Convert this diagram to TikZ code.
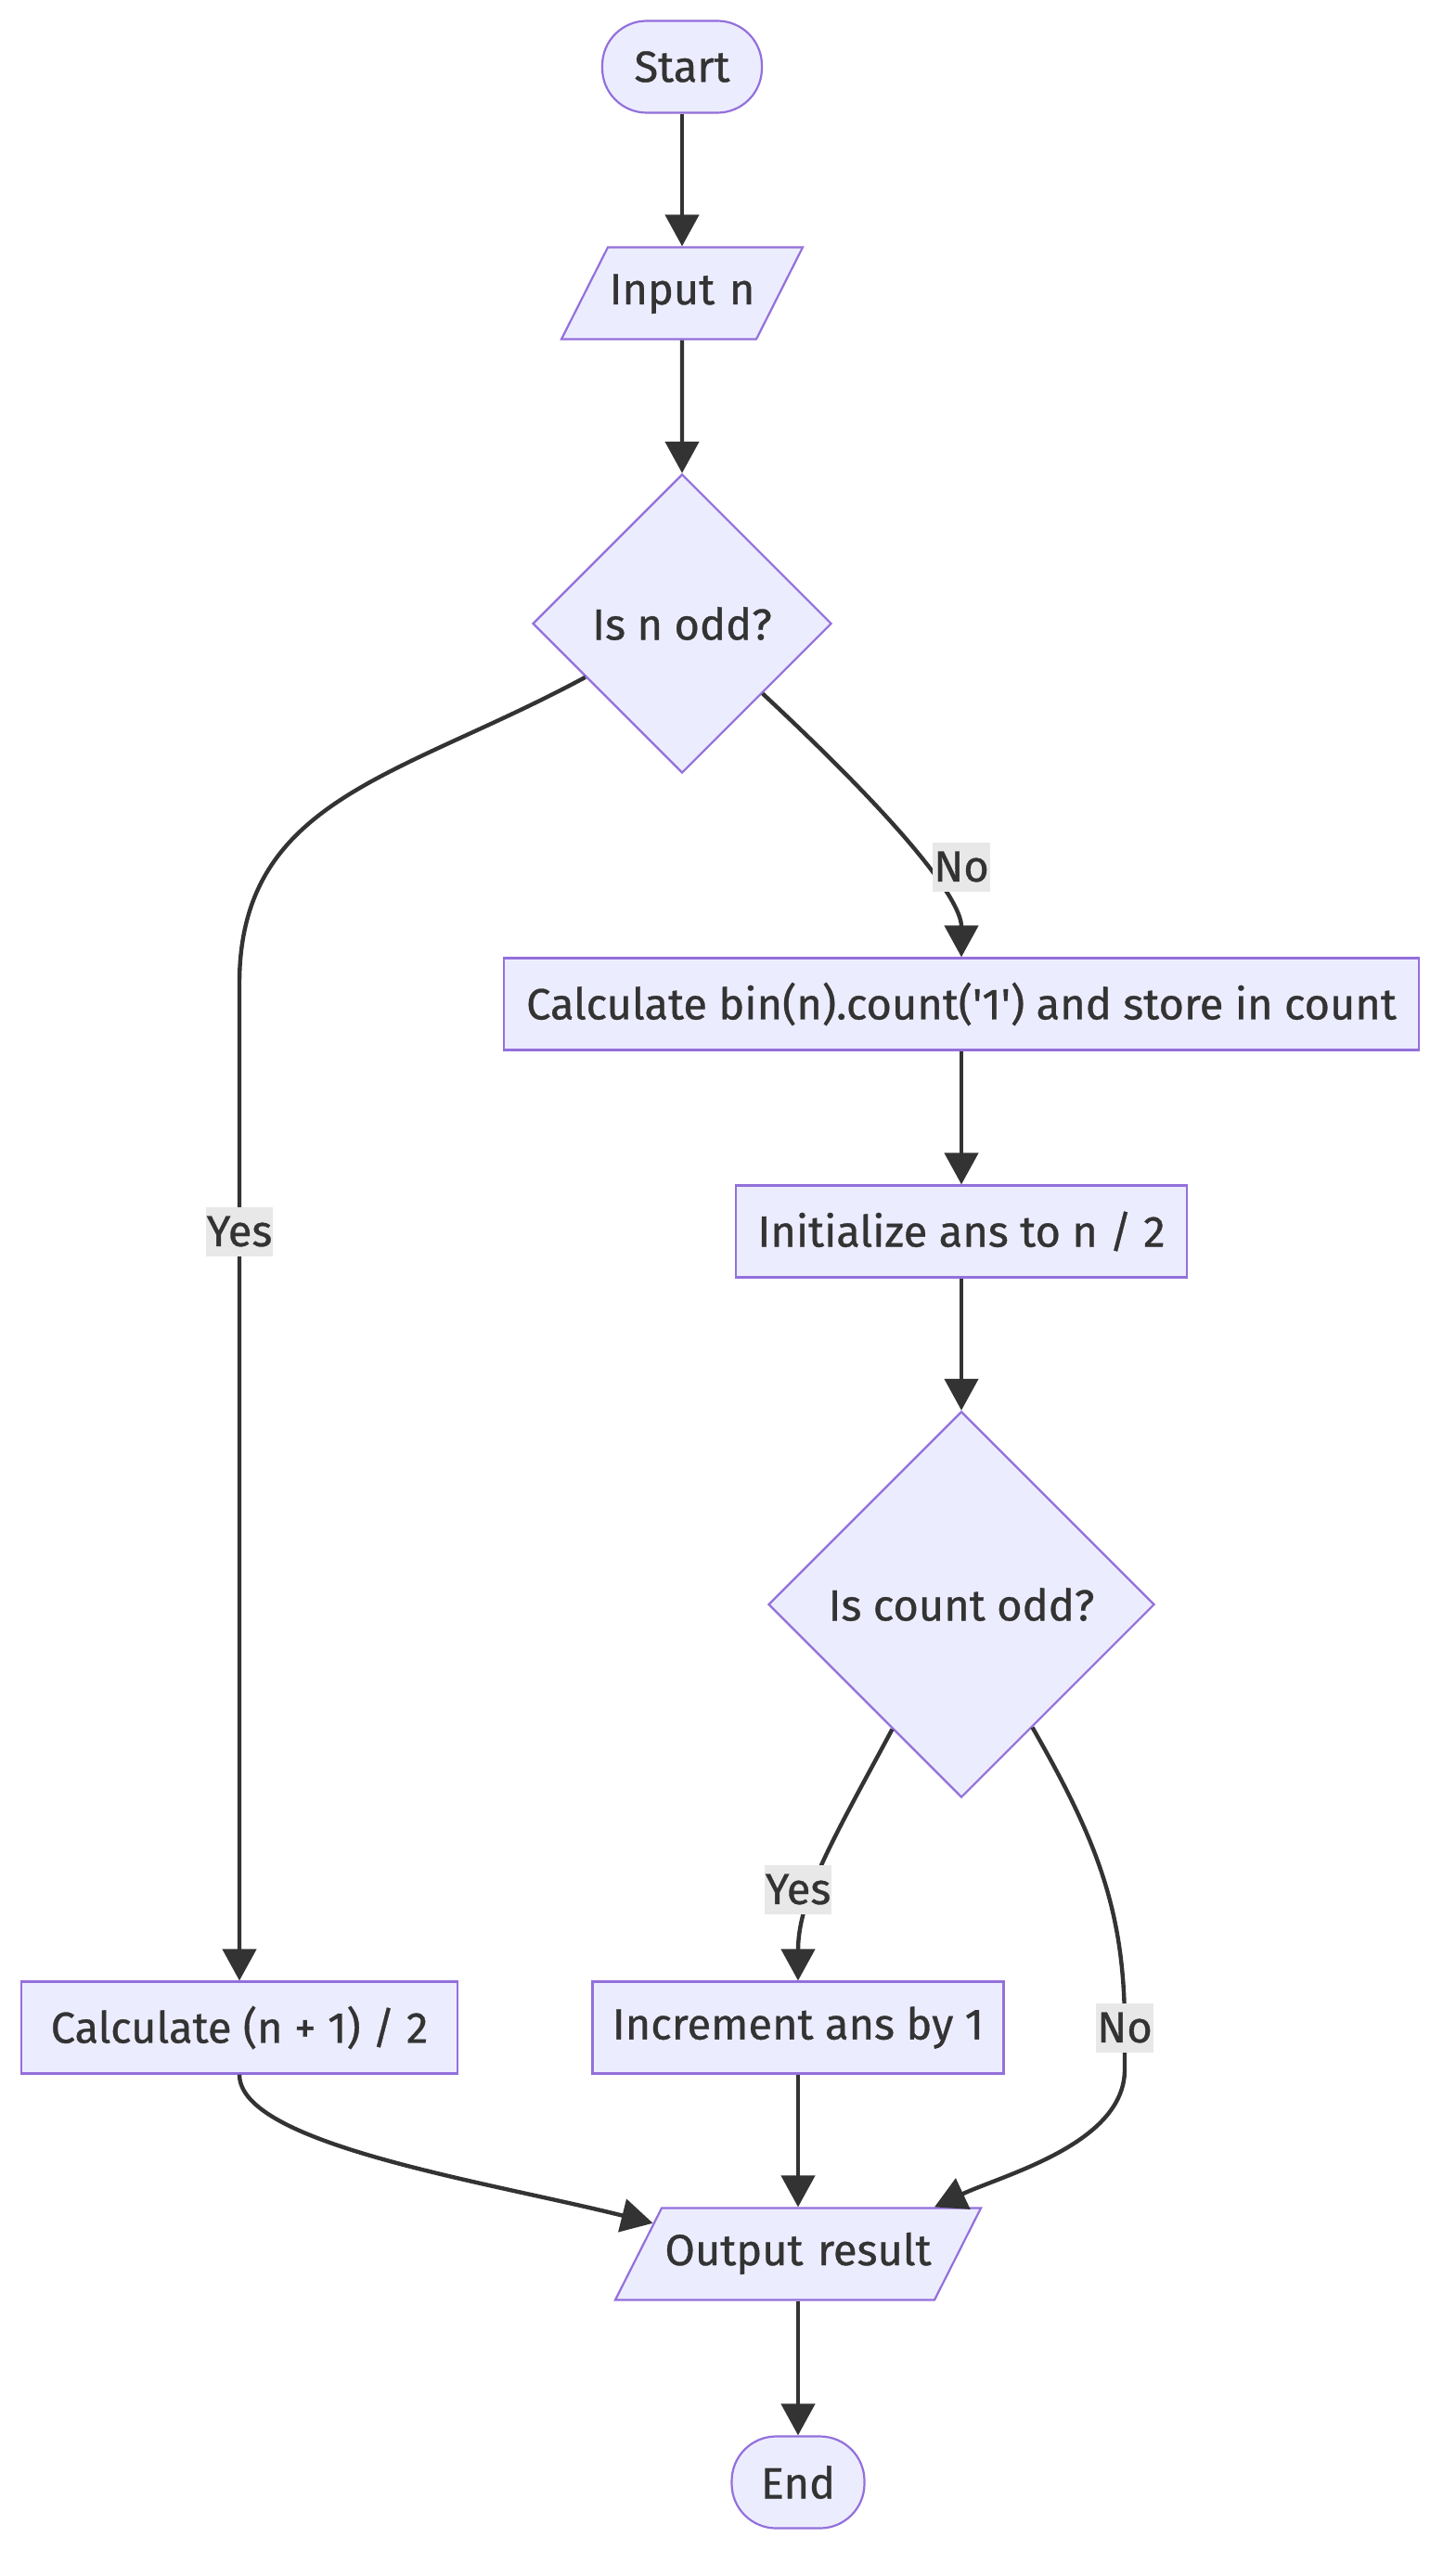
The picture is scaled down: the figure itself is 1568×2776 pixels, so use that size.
\documentclass[tikz,border=0pt]{standalone}
\usepackage{fontspec}
\setmainfont{Fira Sans}[FakeBold=0.7]
\usetikzlibrary{shapes.geometric,arrows.meta,calc}
\definecolor{nodefill}{HTML}{ECECFF}
\definecolor{nodeline}{HTML}{9370DB}
\definecolor{ink}{HTML}{333333}
\definecolor{lblbg}{HTML}{E8E8E8}
\begin{document}
\begin{tikzpicture}[x=0.5pt,y=-0.5pt,
  txt/.style={text=ink,font=\fontsize{23.5}{27}\selectfont},
  base/.style={txt,fill=nodefill,draw=nodeline,line width=1.1pt,inner sep=0pt},
  term/.style={base,rectangle,rounded corners=24pt,minimum height=49.5pt},
  proc/.style={base,rectangle,minimum height=49.5pt},
  io/.style={base,trapezium,trapezium left angle=63.2,trapezium right angle=116.8,
    inner xsep=0pt,inner ysep=13.75pt,text height=17pt,text depth=5pt,align=center},
  decision/.style={base,diamond,aspect=1,minimum width=#1,minimum height=#1},
  arr/.style={draw=ink,line width=2.2pt,-{Triangle[width=18pt,length=17pt]}},
  lbl/.style={txt,fill=lblbg,inner xsep=0.5pt,inner ysep=0pt,minimum height=26.5pt}
]
\useasboundingbox (0,0) rectangle (1568,2776);

\node[term,minimum width=86pt] (start) at (735,72) {Start};
\node[io,text width=80pt] (inp) at (735,316) {Input n};
\node[decision=161pt] (q1) at (735,672) {Is n odd?};
\node[proc,minimum width=493pt] (cb) at (1036,1082) {Calculate bin(n).count(\textquotesingle 1\textquotesingle) and store in count};
\node[proc,minimum width=243pt] (init) at (1036,1327) {Initialize ans to n / 2};
\node[decision=208pt] (q2) at (1036,1729) {Is count odd?};
\node[proc,minimum width=235pt] (c1) at (258,2185) {Calculate (n + 1) / 2};
\node[proc,minimum width=221.5pt] (inc) at (860,2185) {Increment ans by 1};
\node[io,text width=147pt] (out) at (860,2429) {Output result};
\node[term,minimum width=71.5pt] (end) at (860,2675) {End};

\draw[arr] (start) -- (inp);
\draw[arr] (inp) -- (q1);
\draw[arr] (q1.209) .. controls +(-200,108) and +(0,-200) .. (c1.north |- 0,1060) -- (c1.north);
\draw[arr] (q1.319) .. controls +(190,177) and +(0,-50) .. (cb.north);
\draw[arr] (cb) -- (init);
\draw[arr] (init) -- (q2);
\draw[arr] (q2.241) .. controls +(-60,112) and +(0,-90) .. (inc.north);
\draw[arr] (q2.300) .. controls +(70,122) and +(0,-125) .. (inc.east -| 1212,0) -- ++(0,45) .. controls +(0,80) and +(75,-35) .. (out.19);
\draw[arr] (c1.south) .. controls +(0,75) and +(-180,-45) .. (out.168);
\draw[arr] (inc) -- (inc.south |- out.north);
\draw[arr] (end.north |- out.south) -- (end);

\node[lbl] (l1) at (1036,934) {No};
\node[lbl] (l2) at (258,1327) {Yes};
\node[lbl] (l3) at (860,2036) {Yes};
\node[lbl] (l4) at (1212,2185) {No};
\end{tikzpicture}
\end{document}
